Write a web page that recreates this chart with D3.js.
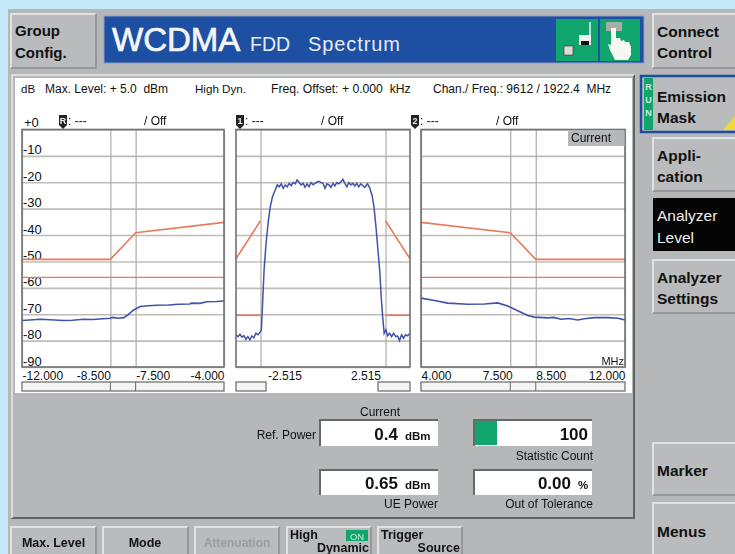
<!DOCTYPE html>
<html>
<head>
<meta charset="utf-8">
<script src="https://cdn.jsdelivr.net/npm/d3@7"></script>
<style>
  html, body { margin: 0; padding: 0; background: #c6e9f9; overflow: hidden; }
  /* the reference is a soft photo of the screen */
  svg { display: block; font-family: "Liberation Sans", Arial, sans-serif; filter: blur(0.4px); }
</style>
</head>
<body>
<svg class="screen" width="735" height="554"></svg>
<script>
// level axis, shared by the three plots
const levelTicks = [0, -10, -20, -30, -40, -50, -60, -70, -80, -90];

// frequency ticks of each plot (MHz)
const leftTicks = [-12, -8.5, -7.5, -4];
const centerTicks = [-2.515, 2.515];
const rightTicks = [4, 7.5, 8.5, 12];

// left plot, lower band
const leftTraceFreq = [-12, -11.7, -11.27, -10.9, -10.35, -10.0, -9.56, -9.2, -8.8, -8.5, -8.4, -8.2, -7.97, -7.8, -7.58, -7.32, -7.0, -6.66, -6.2, -5.8, -5.34, -5.3, -4.95, -4.68, -4.3, -4];
const leftTraceLevel = [-72.4, -72.2, -71.9, -72.1, -72.4, -72.3, -71.9, -72, -71.7, -71.5, -71.2, -71.5, -71.3, -70.2, -68.4, -67.1, -66.8, -66.6, -66.5, -66.2, -66.1, -65.8, -65.9, -65.3, -65.2, -65];
const leftMaskFreq = [-12, -8.5, -7.5, -4];
const leftMaskLevel = [-49.2, -49.2, -39.1, -35.2];

// centre plot, the carrier
const centerTraceFreq = [-3.5, -3.42, -3.34, -3.26, -3.18, -3.1, -3.02, -2.94, -2.86, -2.78, -2.7, -2.62, -2.53, -2.48, -2.43, -2.37, -2.29, -2.21, -2.12, -2.03, -1.92, -1.84, -1.76, -1.68, -1.6, -1.52, -1.44, -1.36, -1.28, -1.2, -1.12, -1.04, -0.96, -0.88, -0.8, -0.72, -0.64, -0.56, -0.48, -0.4, -0.32, -0.24, -0.16, -0.08, 0, 0.08, 0.16, 0.24, 0.32, 0.4, 0.48, 0.56, 0.64, 0.72, 0.8, 0.88, 0.96, 1.04, 1.12, 1.2, 1.28, 1.36, 1.44, 1.52, 1.6, 1.68, 1.79, 1.87, 1.97, 2.05, 2.13, 2.21, 2.29, 2.34, 2.4, 2.46, 2.53, 2.6, 2.68, 2.76, 2.84, 2.92, 3.0, 3.08, 3.16, 3.24, 3.32, 3.4, 3.5];
const centerTraceLevel = [-77.8, -78.5, -77.6, -78.7, -78.1, -79.5, -78.5, -79.7, -78.2, -78.9, -77.2, -77.8, -76.8, -75.9, -65.8, -53.2, -43.1, -35.5, -29.2, -25.4, -22.9, -21, -21.7, -20.6, -22.3, -21, -21.7, -20.4, -21.3, -20, -20.6, -19.1, -20.1, -21, -20.4, -21.9, -20.6, -21.7, -20.1, -20.9, -20.4, -19.9, -19.6, -20.1, -20.4, -22.3, -20.6, -21, -21.9, -20.4, -21.4, -20.1, -20.6, -19.8, -18.9, -20.4, -21.7, -20.1, -21, -20.4, -21.4, -20.4, -21.7, -20.6, -21.2, -21.9, -20.6, -21.9, -24.8, -29.2, -36.8, -45.6, -54.5, -63.3, -70.9, -77.2, -75.9, -78.1, -77.2, -78.5, -77.2, -78.5, -78.2, -80, -77.8, -79.1, -77.8, -78.2, -77.2];
const centerMaskLeftFreq = [-3.5, -2.515];
const centerMaskLeftLevel = [-49, -34.6];
const centerMaskRightFreq = [2.515, 3.5];
const centerMaskRightLevel = [-34.6, -49];
const centerFloorLeftFreq = [-3.5, -2.515];
const centerFloorRightFreq = [2.515, 3.5];
const centerFloorLevel = [-70.4, -70.4];

// right plot, upper band
const rightTraceFreq = [4, 4.53, 5.05, 5.83, 6.49, 7.01, 7.4, 7.79, 8.19, 8.45, 8.97, 9.2, 9.5, 9.8, 10.15, 10.4, 10.8, 11.33, 11.72, 12];
const rightTraceLevel = [-63.9, -64.8, -65.8, -66.2, -66.1, -65.7, -66.9, -68.7, -70.5, -71.1, -71.4, -71.2, -71.9, -71.6, -72.2, -71.7, -71.3, -71.3, -71.5, -72.2];
const rightMaskFreq = [4, 7.5, 8.5, 12];
const rightMaskLevel = [-35.2, -39.1, -49.2, -49.2];

// second limit line, the same in the outer plots
const limitFreqLeft = [-12, -4];
const limitFreqRight = [4, 12];
const limitLevel = [-56, -56];

const grey = "#b5b7b9";
const red = "#e87a5c";
const blue = "#3f53ad";
const green = "#0fa56d";

const svg = d3.select("svg.screen");

function rect(x, y, w, h, fill, stroke, sw) {
  return svg
    .append("rect")
    .attr("x", x)
    .attr("y", y)
    .attr("width", w)
    .attr("height", h)
    .attr("fill", fill)
    .attr("stroke", stroke || "none")
    .attr("stroke-width", sw || 0);
}

function label(x, y, str, size, opts) {
  opts = opts || {};
  return svg
    .append("text")
    .attr("x", x)
    .attr("y", y)
    .attr("font-size", size)
    .attr("font-weight", opts.weight || "normal")
    .attr("fill", opts.fill || "#111")
    .attr("text-anchor", opts.anchor || "start")
    .text(str);
}

// raised grey button
function button(x, y, w, h) {
  rect(x, y, w, h, "#b9bbbd");
  svg.append("path")
    .attr("d", `M${x},${y + h} V${y} H${x + w}`)
    .attr("fill", "none")
    .attr("stroke", "#dfe3e5")
    .attr("stroke-width", 2);
  svg.append("path")
    .attr("d", `M${x + w},${y} V${y + h} H${x}`)
    .attr("fill", "none")
    .attr("stroke", "#8a8d90")
    .attr("stroke-width", 1.5);
}

// sunken read-out box
function readout(x, y, w, h) {
  rect(x, y, w, h, "#fff");
  svg.append("path")
    .attr("d", `M${x},${y + h} V${y} H${x + w}`)
    .attr("fill", "none")
    .attr("stroke", "#66696c")
    .attr("stroke-width", 2);
}

// background and frame
rect(8, 9, 727, 545, grey);

// header
button(11, 14, 85, 54);
label(15, 36, "Group", 15, { weight: "bold" });
label(15, 58, "Config.", 15, { weight: "bold" });

rect(104, 16, 540, 47, "#1d4fa3", "#8b9fc4", 1);
label(112, 51, "WCDMA", 33, { fill: "#f4f6fa" })
  .attr("stroke", "#f4f6fa")
  .attr("stroke-width", 0.7);
label(250, 51, "FDD", 19.5, { fill: "#e8ecf4" });
label(308, 51, "Spectrum", 20, { fill: "#e8ecf4" }).attr("letter-spacing", 0.9);

rect(556, 19, 42, 42, green);
rect(600, 19, 40, 42, green);
// antenna icon
svg.append("path").attr("d", "M590,22 V40").attr("stroke", "#eef").attr("stroke-width", 1.5);
rect(579, 35, 12, 10, "#f2f2f2");
rect(581, 41, 8, 4, "#111");
rect(564, 46, 9, 9, "#d9dcd8", "#333", 0.6);
// touch icon
rect(606, 22, 16, 9, "#a9adaa");
svg.append("path")
  .attr("d", "M611,28 h5 v10 h4 l1,3 l3,-1 l1,2 l4,0 l2,5 v8 l-3,5 h-13 l-5,-10 l-2,-6 l3,1 z")
  .attr("fill", "#f7f7f4");

// right hand softkeys
button(653, 14, 84, 54);
label(657, 37, "Connect", 15.5, { weight: "bold" });
label(657, 58, "Control", 15.5, { weight: "bold" });

rect(641, 76, 96, 56, "#b9bbbd", "#214c9e", 2.5);
rect(644, 78, 9, 52, green);
["R", "U", "N"].forEach((c, i) => {
  label(648.5, 90 + i * 13, c, 9, { weight: "bold", fill: "#cfeedd", anchor: "middle" });
});
label(657, 102, "Emission", 15.5, { weight: "bold" });
label(657, 123, "Mask", 15.5, { weight: "bold" });
svg.append("path").attr("d", "M723,130 L735,116 V130 Z").attr("fill", "#f0d93a");

button(653, 138, 84, 53);
label(657, 161, "Appli-", 15.5, { weight: "bold" });
label(657, 182, "cation", 15.5, { weight: "bold" });

rect(653, 198, 84, 53, "#050505");
label(657, 221, "Analyzer", 15.5, { fill: "#eee" });
label(657, 243, "Level", 15.5, { fill: "#eee" });

button(653, 260, 84, 53);
label(657, 283, "Analyzer", 15.5, { weight: "bold" });
label(657, 304, "Settings", 15.5, { weight: "bold" });

button(653, 443, 84, 52);
label(657, 476, "Marker", 15.5, { weight: "bold" });
button(653, 503, 84, 55);
label(657, 537, "Menus", 15.5, { weight: "bold" });

// main panel
svg.append("path")
  .attr("d", "M12,518 V75 H634 V518 Z")
  .attr("fill", grey);
svg.append("path")
  .attr("d", "M634,75 V518 H11")
  .attr("fill", "none")
  .attr("stroke", "#5f6366")
  .attr("stroke-width", 2);
svg.append("path")
  .attr("d", "M12,518 V75 H634")
  .attr("fill", "none")
  .attr("stroke", "#e8ecee")
  .attr("stroke-width", 1.5);
rect(15, 78, 617, 315, "#fff");

// status row
label(21, 93, "dB", 11.5);
label(45, 93, "Max. Level: + 5.0  dBm", 12).attr("xml:space", "preserve");
label(195, 93, "High Dyn.", 11.6);
label(271, 93, "Freq. Offset: + 0.000  kHz", 12.2).attr("xml:space", "preserve");
label(433, 93, "Chan./ Freq.: 9612 / 1922.4  MHz", 12).attr("xml:space", "preserve");

// plots
const plotTop = 129.5;
const plotBottom = 367;
const levelScale = d3.scaleLinear().domain([0, -90]).range([plotTop, plotBottom]);

const line = (xScale) =>
  d3.line()
    .x((d) => xScale(d[0]))
    .y((d) => levelScale(d[1]));

function drawPlot(x0, x1, domain, ticks, showLevels) {
  const xScale = d3.scaleLinear().domain(domain).range([x0, x1]);

  // horizontal grid, with level labels on the first plot only
  const yAxis = svg
    .append("g")
    .attr("transform", `translate(${x0},0)`)
    .call(
      d3.axisLeft(levelScale)
        .tickValues(levelTicks)
        .tickSize(-(x1 - x0))
        .tickFormat((d) => (showLevels ? (d === 0 ? "+0" : String(d)) : ""))
    );
  yAxis.select(".domain").remove();
  yAxis.selectAll("line").attr("stroke", "#bfbcb7").attr("stroke-width", 1.6);
  yAxis.selectAll("text")
    .attr("x", (d) => (d === 0 ? 2 : 1))
    .attr("dy", (d) => (d === 0 ? -3 : -2))
    .attr("text-anchor", "start")
    .attr("font-size", 13)
    .attr("font-family", "Liberation Sans")
    .attr("fill", "#111");

  // vertical grid and frequency labels
  const xAxis = svg
    .append("g")
    .attr("transform", `translate(0,${plotBottom})`)
    .call(
      d3.axisBottom(xScale)
        .tickValues(ticks)
        .tickSize(-(plotBottom - plotTop))
        .tickPadding(4)
        .tickFormat((d) => d.toFixed(3))
    );
  xAxis.select(".domain").remove();
  xAxis.selectAll("line").attr("stroke", "#aeaca8").attr("stroke-width", 1.2);
  xAxis.selectAll("text")
    .attr("font-size", 12)
    .attr("font-family", "Liberation Sans")
    .attr("fill", "#111");

  return { xScale, xAxis };
}

function drawFrame(x0, x1) {
  rect(x0, plotTop, x1 - x0, plotBottom - plotTop, "none", "#6f7173", 1.6);
}

function drawLine(xScale, freq, level, color, width) {
  svg
    .append("path")
    .datum(d3.zip(freq, level))
    .attr("d", line(xScale))
    .attr("fill", "none")
    .attr("stroke", color)
    .attr("stroke-width", width);
}

// left plot
const left = drawPlot(22, 224, [-12, -4], leftTicks, true);
left.xAxis.selectAll("text")
  .attr("text-anchor", (d, i) => (i === 0 || i === 2 ? "start" : "end"));
drawLine(left.xScale, leftMaskFreq, leftMaskLevel, red, 1.6);
drawLine(left.xScale, limitFreqLeft, limitLevel, red, 1.3);
drawLine(left.xScale, leftTraceFreq, leftTraceLevel, blue, 1.6);
drawFrame(22, 224);

// centre plot
const center = drawPlot(236, 410, [-3.5, 3.5], centerTicks, false);
center.xAxis.selectAll("text")
  .attr("text-anchor", (d, i) => (i === 0 ? "start" : "end"))
  .attr("dx", (d, i) => (i === 0 ? 7 : -5));
drawLine(center.xScale, centerMaskLeftFreq, centerMaskLeftLevel, red, 1.6);
drawLine(center.xScale, centerMaskRightFreq, centerMaskRightLevel, red, 1.6);
drawLine(center.xScale, centerFloorLeftFreq, centerFloorLevel, red, 1.6);
drawLine(center.xScale, centerFloorRightFreq, centerFloorLevel, red, 1.6);
drawLine(center.xScale, centerTraceFreq, centerTraceLevel, blue, 1.5);
drawFrame(236, 410);

// right plot
const right = drawPlot(421, 625, [4, 12], rightTicks, false);
right.xAxis.selectAll("text")
  .attr("text-anchor", (d, i) => (i === 0 || i === 2 ? "start" : "end"))
  .attr("dx", (d, i) => (i === 1 ? 2 : 0));
drawLine(right.xScale, rightMaskFreq, rightMaskLevel, red, 1.6);
drawLine(right.xScale, limitFreqRight, limitLevel, red, 1.3);
drawLine(right.xScale, rightTraceFreq, rightTraceLevel, blue, 1.6);
drawFrame(421, 625);

rect(568, 130, 56.5, 16, grey);
label(571, 142, "Current", 12);
label(624, 365, "MHz", 11, { anchor: "end" });

// marker flags above the plots
[[59, "R"], [236, "1"], [411, "2"]].forEach(([x, name]) => {
  svg.append("path")
    .attr("d", `M${x},115 h8 v10 l-4,4 l-4,-4 z`)
    .attr("fill", "#222");
  label(x + 4, 124, name, 9, { fill: "#eee", anchor: "middle", weight: "bold" });
  label(x + 9, 125, ": ---", 12);
  label(x + 85, 125, "/ Off", 12);
});

// span bars under the axes
function spanBar(x0, x1, marks) {
  rect(x0, 382, x1 - x0, 9, "#f4f4f2", "#66696c", 1.2);
  marks.forEach((m) => {
    svg.append("line")
      .attr("x1", m).attr("x2", m)
      .attr("y1", 382).attr("y2", 391)
      .attr("stroke", "#66696c");
  });
}
spanBar(22, 224, [left.xScale(-8.5), left.xScale(-7.5)]);
spanBar(236, 266, []);
spanBar(378, 410, []);
spanBar(421, 625, [right.xScale(7.5), right.xScale(8.5)]);

// read-outs
label(380, 416, "Current", 12, { anchor: "middle" });
label(316, 439, "Ref. Power", 12, { anchor: "end" });
readout(320, 420, 118, 26);
label(398, 440, "0.4", 17, { weight: "bold", anchor: "end" });
label(405, 440, "dBm", 11.5, { weight: "bold" });

readout(320, 470, 118, 25);
label(398, 489, "0.65", 17, { weight: "bold", anchor: "end" });
label(405, 489, "dBm", 11.5, { weight: "bold" });
label(438, 508, "UE Power", 12, { anchor: "end" });

readout(474, 420, 118, 26);
rect(475, 421, 22, 24, green);
label(588, 440, "100", 17, { weight: "bold", anchor: "end" });
label(593, 460, "Statistic Count", 12, { anchor: "end" });

readout(474, 470, 118, 25);
label(571, 489, "0.00", 17, { weight: "bold", anchor: "end" });
label(578, 489, "%", 11.5, { weight: "bold" });
label(593, 508, "Out of Tolerance", 12, { anchor: "end" });

// bottom softkeys
button(11, 527, 85, 30);
label(53.5, 547, "Max. Level", 12.5, { weight: "bold", anchor: "middle" });
button(103, 527, 85, 30);
label(145, 547, "Mode", 12.5, { weight: "bold", anchor: "middle" });
button(195, 527, 84, 30);
label(237, 547, "Attenuation", 12, { weight: "bold", anchor: "middle", fill: "#9a9da0" });
button(287, 527, 84, 30);
label(290, 539, "High", 12.5, { weight: "bold" });
rect(346, 530, 22, 11, green);
label(357, 539.5, "ON", 9.5, { anchor: "middle", fill: "#c9efdc" });
label(369, 552, "Dynamic", 12.5, { weight: "bold", anchor: "end" });
button(378, 527, 84, 30);
label(381, 539, "Trigger", 12.5, { weight: "bold" });
label(460, 552, "Source", 12.5, { weight: "bold", anchor: "end" });
</script>
</body>
</html>
